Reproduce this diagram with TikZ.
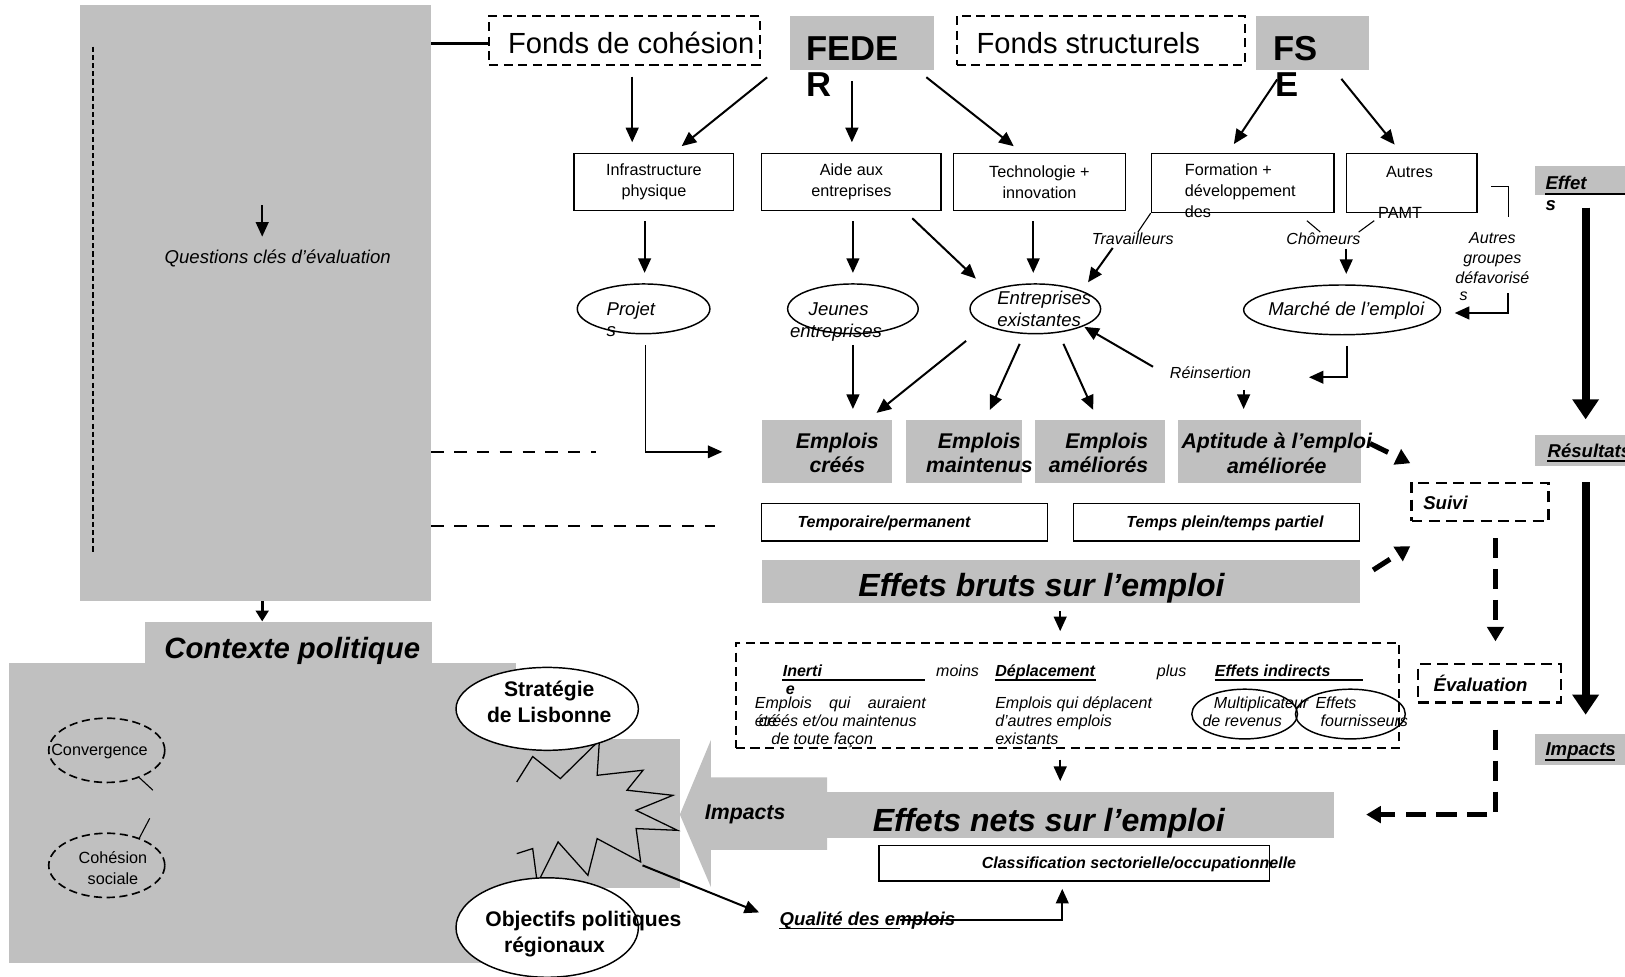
\documentclass[tikz,border=0pt]{standalone}
\usepackage{fontspec}
\setmainfont{Liberation Sans}
\usetikzlibrary{arrows.meta,shapes.geometric}
\definecolor{panelgray}{RGB}{192,192,192}

\begin{document}
\begin{tikzpicture}[x=0.02cm,y=-0.02cm,
  every node/.style={inner sep=0pt},
  graybox/.style={fill=panelgray},
  linebox/.style={draw,line width=0.8pt},
  dashbox/.style={draw,line width=1.1pt,dash pattern=on 5pt off 3pt},
  fundtext/.style={font=\fontsize{16}{19}\selectfont},
  fundcode/.style={font=\fontsize{19}{22}\selectfont\bfseries},
  measuretext/.style={font=\fontsize{8.9}{11.4}\selectfont,align=center},
  note/.style={font=\fontsize{8.8}{10.8}\selectfont\itshape},
  ovaltext/.style={font=\fontsize{10.2}{12}\selectfont\itshape},
  jobtext/.style={font=\fontsize{11.7}{13.7}\selectfont\bfseries\itshape,align=center},
  tagtext/.style={font=\fontsize{8.8}{10}\selectfont\bfseries\itshape},
  labeltext/.style={font=\fontsize{10.2}{12}\selectfont\bfseries\itshape},
  headline/.style={font=\fontsize{17.6}{20}\selectfont\bfseries\itshape},
  ctxtext/.style={font=\fontsize{16.1}{19}\selectfont\bfseries\itshape},
  strongtext/.style={font=\fontsize{11.6}{14.2}\selectfont\bfseries,align=center},
  oval/.style={ellipse,draw,line width=0.8pt},
  arr/.style={-{Triangle[width=7pt,length=8pt]},line width=1.1pt,shorten <=0.2cm,shorten >=0.2cm},
  bigdash/.style={-{Triangle[width=9pt,length=8pt]},line width=2.8pt,dash pattern=on 11pt off 6pt},
  bigarrow/.style={-{Triangle[width=14pt,length=11pt]},line width=4.5pt}
]
\useasboundingbox (0,0) rectangle (1568,942);

% Left panel
\node[graybox, minimum width=6.78cm, minimum height=11.5cm] (leftpanel) at (246.5,292.5) {};
\draw[line width=1.1pt, dash pattern=on 2.8pt off 1.7pt] (90,45) -- (90,535);
\node[ovaltext] (questions) at (268,249) {Questions clés d’évaluation};
\coordinate (qtop) at (253,198);
\draw[arr, shorten <=0pt, shorten >=0.24cm] (qtop) -- (qtop |- questions.north);

% Funds
\node[dashbox, minimum width=5.22cm, minimum height=0.96cm] (fondscoh) at (602.5,39) {};
\node[fundtext, anchor=base west] (fondscohtext) at (490,52) {Fonds de cohésion};
\draw[line width=1.7pt] (leftpanel.east |- fondscohtext.center) -- (fondscoh.west |- fondscohtext.center);

\node[graybox, minimum width=2.78cm, minimum height=1.06cm] (feder) at (831.5,41.5) {};
\node[fundcode, anchor=base west] (federtext) at (778,58) {FEDE};
\node[fundcode, anchor=base west] (federtail) at (778,93) {R};

\node[dashbox, minimum width=5.56cm, minimum height=0.96cm] (fondsstruct) at (1062,39) {};
\node[fundtext, anchor=base west] (fondsstructtext) at (942,52) {Fonds structurels};

\node[graybox, minimum width=2.18cm, minimum height=1.06cm] (fse) at (1266.5,41.5) {};
\node[fundcode, anchor=base west] (fsetext) at (1228,58) {FS};
\node[fundcode, anchor=base west] (fsetail) at (1230,93) {E};

% Measures
\node[linebox, measuretext, minimum width=3.08cm, minimum height=1.1cm] (infra) at (631,175.5) {Infrastructure\\physique};
\node[linebox, measuretext, minimum width=3.46cm, minimum height=1.1cm] (aide) at (821.5,175.5) {Aide aux\\entreprises};
\node[linebox, measuretext, minimum width=3.32cm, minimum height=1.1cm] (techno) at (1003,175.5) {Technologie +\\innovation};
\node[linebox, minimum width=3.52cm, minimum height=1.14cm] (formation) at (1199,176.5) {};
\node[measuretext, align=left, anchor=north west] (formationtext) at (1143,158) {Formation +\\développement\\des};
\node[linebox, minimum width=2.52cm, minimum height=1.14cm] (autres) at (1362,176.5) {};
\node[measuretext] (autrestext) at (1360,166) {Autres};
\node[measuretext] (pamt) at (1351,205) {PAMT};

\draw[arr] (fondscoh.south -| 610,0) -- (infra.north -| 610,0);
\draw[arr] (feder.south -| 748,0) -- (infra.north -| 650,0);
\draw[arr] (feder.south -| 822,0) -- (aide.north -| 822,0);
\draw[arr] (feder.south -| 886,0) -- (techno.north -| 986,0);
\draw[arr] (fse.south -| 1238,0) -- (formation.north -| 1185,0);
\draw[arr] (fse.south -| 1288,0) -- (autres.north -| 1352,0);

% Targets
\node[oval, minimum width=2.56cm, minimum height=0.96cm] (projets) at (621,298) {};
\node[ovaltext, anchor=base west] at (585,304) {Projet};
\node[ovaltext, anchor=base west] at (585,325) {s};
\node[oval, minimum width=2.52cm, minimum height=0.96cm] (jeunes) at (823,298) {};
\node[ovaltext, anchor=base west] at (780,304) {Jeunes};
\node[ovaltext, anchor=base west] at (762,326) {entreprises};
\node[oval, minimum width=2.52cm, minimum height=0.96cm] (existantes) at (999,298) {};
\node[ovaltext, anchor=base west] at (962,294) {Entreprises};
\node[ovaltext, anchor=base west] at (962,315) {existantes};
\node[oval, minimum width=3.8cm, minimum height=0.96cm] (marche) at (1295,299) {};
\node[ovaltext, anchor=base] (marchetext) at (1299,304) {Marché de l’emploi};

\draw[arr] (infra.south -| 622,0) -- (projets.north -| 622,0);
\draw[arr] (aide.south -| 823,0) -- (jeunes.north);
\draw[arr, shorten >=0.34cm] (aide.south -| 873,0) -- (existantes.north west);
\draw[arr] (techno.south -| 997,0) -- (existantes.north -| 997,0);

\node[note] (trav) at (1093,230) {Travailleurs};
\draw[line width=0.6pt] (trav.north -| 1098,0) -- (formation.south west);
\draw[arr, shorten <=0.08cm] (trav.south -| 1076,0) -- (existantes.north east);

\node[note] (chom) at (1277,230) {Chômeurs};
\draw[line width=0.6pt] (chom.north -| 1274,0) -- ++(-13,-11);
\draw[line width=0.6pt] (chom.north -| 1311,0) -- ++(15,-11);
\draw[arr, shorten <=0.08cm] (chom.south -| 1299,0) -- (marche.north -| 1299,0);

\node[note, align=center] (groupes) at (1440,249) {Autres\\groupes\\défavorisé};
\node[note, anchor=base west] (groupestail) at (1408,290) {s};
\draw[line width=0.6pt] (autres.east |- 0,180) ++(13,0) -- ++(17,0) -- ++(0,29);
\coordinate (grpcorner) at (1455,302);
\draw[arr, shorten <=0pt, shorten >=0.26cm] (grpcorner |- 0,283) -- (grpcorner) -- (marche.east |- grpcorner);

% Jobs
\node[graybox, minimum width=2.52cm, minimum height=1.22cm] (creees) at (798,435.5) {};
\node[jobtext] at (808,437) {Emplois\\créés};
\node[graybox, minimum width=2.24cm, minimum height=1.22cm] (maintenus) at (930,435.5) {};
\node[jobtext] at (945,437) {Emplois\\maintenus};
\node[graybox, minimum width=2.5cm, minimum height=1.22cm] (ameliores) at (1061.5,435.5) {};
\node[jobtext, align=right] at (1060,437) {Emplois\\améliorés};
\node[graybox, minimum width=3.52cm, minimum height=1.22cm] (aptitude) at (1225,435.5) {};
\node[jobtext] at (1232,437) {Aptitude à l’emploi\\améliorée};

\coordinate (projend) at (697,436);
\draw[arr, shorten >=0pt, line width=0.8pt] (projets.south -| 623,0) |- (projend);
\draw[line width=1.1pt, dash pattern=on 6.8pt off 5.7pt] (leftpanel.east |- projend) -- +(159,0);
\draw[line width=1.1pt, dash pattern=on 6.8pt off 5.7pt] (leftpanel.east |- 0,508) -- +(274,0);

\draw[arr] (jeunes.south -| 823,0) -- (creees.north -| 823,0);
\draw[arr] (existantes.south -| 940,0) -- (creees.north -| 838,0);
\draw[arr] (existantes.south -| 988,0) -- (maintenus.north -| 951,0);
\draw[arr] (existantes.south -| 1022,0) -- (ameliores.north -| 1059,0);

\node[note] (reins) at (1168,360) {Réinsertion};
\draw[arr, shorten <=0pt, shorten >=0.02cm] ([xshift=-0.32cm]reins.north west) -- (existantes.-20);
\draw[arr] (reins.south -| 1200,0) -- (aptitude.north -| 1200,0);
\coordinate (marcheend) at (1263,364);
\draw[arr, shorten >=0pt] (marche.south -| 1300,0) |- (marcheend);

% Job types
\node[linebox, minimum width=5.52cm, minimum height=0.72cm] (temp) at (873,504) {};
\node[tagtext] at (853,505) {Temporaire/permanent};
\node[linebox, minimum width=5.52cm, minimum height=0.72cm] (plein) at (1174,504) {};
\node[tagtext] at (1182,505) {Temps plein/temps partiel};

% Gross effects
\node[graybox, minimum width=11.54cm, minimum height=0.84cm] (bruts) at (1023.5,561) {};
\node[headline, anchor=base] (brutstext) at (1005,576) {Effets bruts sur l’emploi};

% Monitoring
\node[draw, line width=1.3pt, dash pattern=on 6pt off 3.5pt, minimum width=2.64cm, minimum height=0.74cm] (suivi) at (1428,484.5) {};
\node[labeltext, anchor=base west] at (1373,492) {Suivi};
\node[draw, line width=1.3pt, dash pattern=on 6pt off 3.5pt, minimum width=2.76cm, minimum height=0.74cm] (evaluation) at (1437,659.5) {};
\node[labeltext, anchor=base west] at (1383,667) {Évaluation};

% Legend
\node[graybox, minimum width=1.74cm, minimum height=0.56cm] (effets) at (1524.5,174) {};
\node[labeltext, anchor=base west] (effetstext) at (1491,183) {Effet};
\draw[line width=1pt] (effetstext.base west) ++(0,4) -- ++(78,0);
\node[labeltext, anchor=base west] at (1491,203) {s};
\node[graybox, minimum width=1.74cm, minimum height=0.6cm] (resultats) at (1524.5,435) {};
\node[labeltext, anchor=base west] (resultatstext) at (1493,441) {Résultats};
\draw[line width=1pt] (resultatstext.base west) ++(0,4) -- ++(76,0);
\node[graybox, minimum width=1.74cm, minimum height=0.6cm] (impactsbox) at (1524.5,723) {};
\node[labeltext, anchor=base west] (impactstext) at (1491,729) {Impacts};
\draw[line width=1pt] (impactstext.base west) ++(0,4) -- ++(67,0);
\draw[bigarrow, shorten <=0.24cm, shorten >=0.3cm] (effets.south -| 1530,0) -- (resultats.north -| 1530,0);
\draw[bigarrow, shorten <=0.3cm, shorten >=0.36cm] (resultats.south -| 1530,0) -- (impactsbox.north -| 1530,0);

% Policy context
\node[graybox, minimum width=5.54cm, minimum height=0.8cm] (contexte) at (278.5,620) {};
\node[graybox, minimum width=9.78cm, minimum height=5.78cm] (polregion) at (253.5,784.5) {};
\node[ctxtext, anchor=base] (contextetext) at (282,635) {Contexte politique};
\draw[-{Triangle[width=7pt,length=6pt]}, line width=1.6pt] (leftpanel.south -| 253,0) -- (contexte.north -| 253,0);

\node[oval, line width=0.9pt, dash pattern=on 4.5pt off 2.5pt, minimum width=2.24cm, minimum height=1.24cm] (conv) at (103,724) {};
\node[measuretext] at (96,725) {Convergence};
\draw[line width=0.6pt] (conv.-40) -- ++(13,12);
\node[oval, line width=0.9pt, dash pattern=on 4.5pt off 2.5pt, minimum width=2.24cm, minimum height=1.24cm] (cohsoc) at (103,835) {};
\node[measuretext] at (109,838) {Cohésion\\sociale};
\draw[line width=0.6pt] (cohsoc.40) -- ++(10,-19);

% Impacts
\node[graybox, minimum width=3.16cm, minimum height=2.88cm] (impactzone) at (577,785) {};
\draw[fill=panelgray, line width=0.7pt] (498.6,754.5) -- (514,730) -- (540.7,751.3) -- (578.4,714.3) -- (576.2,748.1) -- (620.5,743.2) -- (605,762.5) -- (649.3,767.4) -- (613.8,781.9) -- (653.7,801.2) -- (613.8,799.5) -- (618.2,831.7) -- (576.2,809.2) -- (567.3,844.6) -- (538.5,812.4) -- (518.5,852.6) -- (514,818.8) -- (498.6,823.7);
\fill[panelgray] (656,786) -- (686,714) -- (686,750) -- (798,750) -- (798,820) -- (686,820) -- (686,856) -- cycle;
\node[jobtext] (impactsarrow) at (719,786) {Impacts};

\node[oval, fill=white, minimum width=3.52cm, minimum height=1.6cm] (lisbonne) at (528,684) {};
\node[strongtext] (lisbonnetext) at (530,677) {Stratégie\\de Lisbonne};
\node[oval, fill=white, minimum width=3.52cm, minimum height=1.92cm] (objectifs) at (528,895) {};
\node[strongtext, anchor=base west] at (468,894) {Objectifs politiques};
\node[strongtext, anchor=base west] at (486,919) {régionaux};

% Net effects
\node[draw, line width=1.1pt, dash pattern=on 5pt off 3pt, minimum width=12.8cm, minimum height=2.04cm] (inertie) at (1030,671) {};
\node[tagtext, anchor=base west] (inerti) at (755,653) {Inerti};
\draw[line width=0.8pt] (inerti.base west) ++(0,3) -- ++(138,0);
\node[tagtext, anchor=base west] at (758,670) {e};
\node[note, anchor=base west] at (903,653) {moins};
\node[tagtext, anchor=base west] (deplac) at (960,653) {Déplacement};
\draw[line width=0.8pt] (deplac.base west) ++(0,3) -- ++(98,0);
\node[note, anchor=base west] at (1116,653) {plus};
\node[tagtext, anchor=base west] (indirects) at (1172,653) {Effets indirects};
\draw[line width=0.8pt] (indirects.base west) ++(0,3) -- ++(143,0);
\node[note, anchor=base west] at (728,684) {\makebox[3.3cm][s]{Emplois qui auraient}};
\node[note, anchor=base west] at (728,701) {été};
\node[note, anchor=base west] at (732,701) {créés et/ou maintenus};
\node[note, anchor=base west] at (744,718) {de toute façon};
\node[note, anchor=base west] at (960,684) {Emplois qui déplacent};
\node[note, anchor=base west] at (960,701) {d’autres emplois};
\node[note, anchor=base west] at (960,718) {existants};
\node[oval, minimum width=2.04cm, minimum height=0.96cm] (mult) at (1201,689) {};
\node[note, anchor=base west] at (1171,684) {Multiplicateur};
\node[note, anchor=base west] at (1160,701) {de revenus};
\node[oval, minimum width=2.12cm, minimum height=0.96cm] (fourn) at (1303,689) {};
\node[note, anchor=base west] at (1269,684) {Effets};
\node[note, anchor=base west] at (1274,701) {fournisseurs};

\node[graybox, minimum width=9.78cm, minimum height=0.9cm] (nets) at (1042.5,786.5) {};
\node[headline, anchor=base] (netstext) at (1012,802) {Effets nets sur l’emploi};
\node[linebox, minimum width=7.54cm, minimum height=0.68cm] (classif) at (1036.5,833) {};
\node[tagtext, anchor=base] at (1099,838) {Classification sectorielle/occupationnelle};

\draw[arr, shorten <=0.14cm] (bruts.south -| 1023,0) -- (inertie.north -| 1023,0);
\draw[arr, shorten <=0.2cm] (inertie.south -| 1023,0) -- (nets.north -| 1023,0);

% Job quality
\node[labeltext, anchor=base west] (qualite) at (752,893) {Qualité des emplois};
\draw[line width=0.9pt] (qualite.base west) ++(0,3) -- ++(116,0);
\coordinate (burst) at (620,835);
\draw[arr, shorten <=0pt, shorten >=0.42cm] (burst) -- (qualite.west);
\coordinate (qline) at (868,888);
\draw[arr, shorten <=0pt, shorten >=0.14cm] (qline) -| (classif.south -| 1025,0);

% Monitoring flows
\coordinate (aptout) at (1322,428);
\draw[bigdash] (aptout) -- (suivi.north west |- 0,447);
\coordinate (brutsout) at (1325,550);
\draw[bigdash] (brutsout) -- (suivi.south west |- 0,527);
\draw[bigdash, shorten <=0.3cm, shorten >=0.42cm] (suivi.south -| 1443,0) -- (evaluation.north -| 1443,0);
\draw[bigdash, shorten <=0.5cm, shorten >=0.62cm] (evaluation.south -| 1443,0) |- (nets.east |- 0,786);
\end{tikzpicture}
\end{document}
